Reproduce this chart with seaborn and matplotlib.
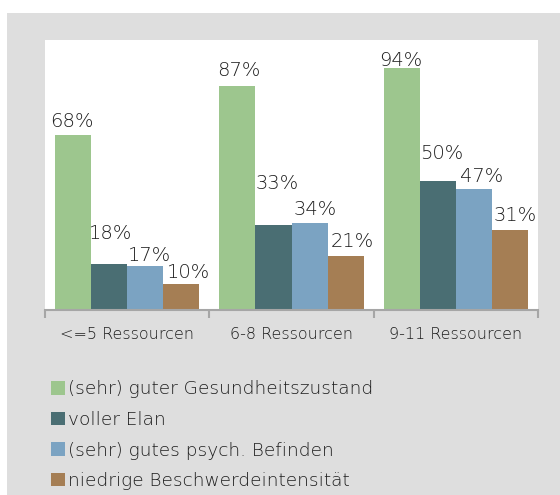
import matplotlib
matplotlib.use("Agg")
import matplotlib.pyplot as plt
from matplotlib.patches import Rectangle
from matplotlib.ticker import FixedLocator
import seaborn as sns
import pandas as pd

categories = ["<=5 Ressourcen", "6-8 Ressourcen", "9-11 Ressourcen"]
series = ["(sehr) guter Gesundheitszustand", "voller Elan",
          "(sehr) gutes psych. Befinden", "niedrige Beschwerdeintensität"]
gesundheit = [68, 87, 94]
elan = [18, 33, 50]
befinden = [17, 34, 47]
beschwerden = [10, 21, 31]
colors = ["#9DC68E", "#4A6E73", "#7BA3C2", "#A57E54"]

rows = []
for s, vals in zip(series, [gesundheit, elan, befinden, beschwerden]):
    for c, v in zip(categories, vals):
        rows.append({"Kategorie": c, "Serie": s, "Wert": v})
df = pd.DataFrame(rows)

# label placement (pixels): horizontal shift and gap above bar, per series & category
label_dx = [[-1, 1, -1], [1.5, 4, 3.5], [4, 5.5, 7.5], [7, 6.5, 5]]
label_gap = [[8, 10, 2], [25, 36, 22], [5, 8, 7], [6, 9, 9]]

sns.set_theme(style="white")
plt.rcParams["font.family"] = ["DejaVu Sans"]
text_color = "#1E1E1E"
fw = 200

W, H = 560, 495
fig = plt.figure(figsize=(W / 100, H / 100), dpi=100, facecolor="white")
fig.patches.append(Rectangle((7 / W, 0), 1 - 7 / W, (H - 13) / H,
                             transform=fig.transFigure, facecolor="#DEDEDE",
                             edgecolor="none", zorder=-10))

ax = fig.add_axes([45 / W, (H - 310) / H, (538 - 45) / W, (310 - 40) / H])
ax.set_facecolor("white")

sns.barplot(data=df, x="Kategorie", y="Wert", hue="Serie", order=categories,
            hue_order=series, palette=colors, width=0.878, ax=ax,
            saturation=1, legend=False, edgecolor="none")

px = 72 / 100
for si, cont in enumerate(ax.containers):
    for ci, bar in enumerate(cont):
        h = bar.get_height()
        ax.annotate(f"{h:.0f}%", xy=(bar.get_x() + bar.get_width() / 2, h),
                    xytext=(label_dx[si][ci] * px, label_gap[si][ci] * px),
                    textcoords="offset points", ha="center", va="baseline",
                    fontsize=14, color=text_color, fontweight=fw)

ax.set_ylim(0, 105)
ax.set_xlim(-0.5, 2.5)
ax.set_yticks([])
ax.set_xlabel("")
ax.set_ylabel("")
for s in ["top", "left", "right"]:
    ax.spines[s].set_visible(False)
ax.spines["bottom"].set_color("#A6A6A6")
ax.spines["bottom"].set_linewidth(1.5)
ax.xaxis.set_minor_locator(FixedLocator([-0.5, 0.5, 1.5, 2.5]))
ax.tick_params(axis="x", which="major", length=0, pad=12, labelsize=11.5,
               labelcolor=text_color)
ax.tick_params(axis="x", which="minor", length=6, width=1.5, color="#A6A6A6",
               bottom=True)
for t in ax.get_xticklabels():
    t.set_fontweight(fw)

handles = [Rectangle((0, 0), 1, 1, facecolor=c, edgecolor="none") for c in colors]
leg = fig.legend(handles, series, loc="upper left",
                 bbox_to_anchor=(44 / W, (H - 373) / H), frameon=False,
                 handlelength=0.72, handleheight=0.72, handletextpad=0.18,
                 labelspacing=0.68, fontsize=13.3, borderaxespad=0)
for t in leg.get_texts():
    t.set_color(text_color)
    t.set_fontweight(fw)

fig.savefig("out.png", dpi=100, facecolor=fig.get_facecolor())
